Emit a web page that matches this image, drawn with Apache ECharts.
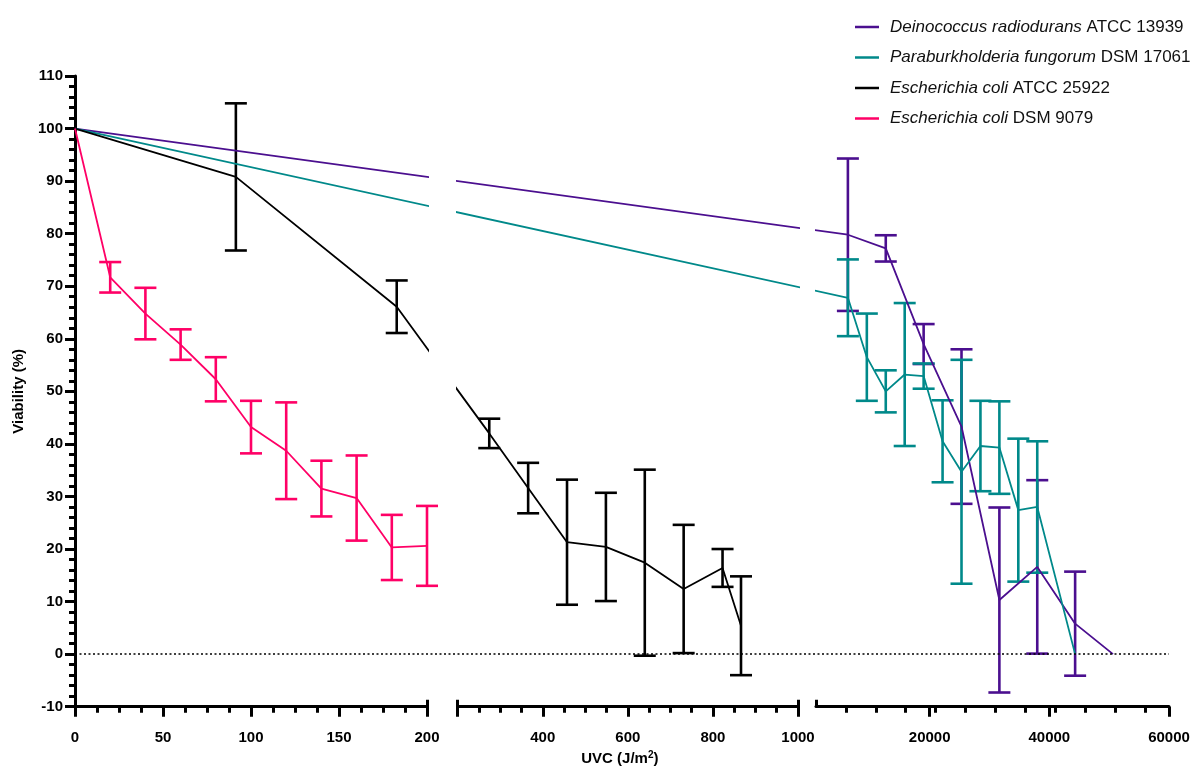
<!DOCTYPE html>
<html>
<head>
<meta charset="utf-8">
<script src="https://cdn.jsdelivr.net/npm/echarts@6/dist/echarts.min.js"></script>
<style>
  html, body { margin: 0; padding: 0; background: #fff; }
  #chart { width: 1192px; height: 769px; }
</style>
</head>
<body>
<div id="chart"></div>
<script>
// --- data ---
const doseDR = [0, 6330, 12660, 18990, 25320, 31650, 37980, 44310, 50640]
const meanDR = [100, 79.8, 77.2, 59, 43.3, 10.3, 16.6, 5.8, 0]
const sdDR   = [0, 14.5, 2.5, 3.8, 14.7, 17.6, 16.5, 9.9, 0]

const dosePF = [0, 6330, 9495, 12660, 15825, 18990, 22155, 25320, 28485, 31650, 34815, 37980, 44310]
const meanPF = [100, 67.8, 56.5, 50, 53.2, 52.9, 40.5, 34.7, 39.6, 39.3, 27.4, 28, 0]
const sdPF   = [0, 7.3, 8.3, 4, 13.6, 2.4, 7.8, 21.3, 8.6, 8.8, 13.6, 12.5, 0]

const doseEC1 = [0, 91.4, 182.8, 274.2, 365.6, 457, 548.4, 639.8, 731.2, 822.6, 866]
const meanEC1 = [100, 90.8, 66.1, 42, 31.6, 21.3, 20.4, 17.4, 12.4, 16.4, 5.4]
const sdEC1   = [0, 14, 5, 2.8, 4.8, 11.9, 10.3, 17.7, 12.2, 3.6, 9.4]

const doseEC2 = [0, 20, 40, 60, 80, 100, 120, 140, 160, 180, 200]
const meanEC2 = [100, 71.7, 64.8, 58.9, 52.3, 43.2, 38.7, 31.5, 29.7, 20.3, 20.6]
const sdEC2   = [0, 2.9, 4.9, 2.9, 4.2, 5, 9.2, 5.3, 8.1, 6.2, 7.6]

const strains = [
  { italic: 'Deinococcus radiodurans', rest: 'ATCC 13939', color: '#4B0F8F', dose: doseDR, mean: meanDR, sd: sdDR },
  { italic: 'Paraburkholderia fungorum', rest: 'DSM 17061', color: '#00898A', dose: dosePF, mean: meanPF, sd: sdPF },
  { italic: 'Escherichia coli', rest: 'ATCC 25922', color: '#000000', dose: doseEC1, mean: meanEC1, sd: sdEC1 },
  { italic: 'Escherichia coli', rest: 'DSM 9079', color: '#FF0066', dose: doseEC2, mean: meanEC2, sd: sdEC2 }
]

// broken x axis: three pieces, each with its own linear scale
const segTicks = [
  { major: [0, 50, 100, 150, 200], labels: [0, 50, 100, 150, 200], caps: [200] },
  { major: [200, 400, 600, 800, 1000], labels: [400, 600, 800, 1000], caps: [200, 1000] },
  { major: [20000, 40000, 60000], labels: [20000, 40000, 60000], caps: [1000] }
]
const minorStep = [12.5, 50, 5000]

// layout of the pieces (px)
const SEGS = [
  { min: 0, max: 200, left: 75, right: 427 },
  { min: 200, max: 1000, left: 457.7, right: 798 },
  { min: 1000, max: 60000, left: 816, right: 1169 }
]
const TOP = 76
const BOTTOM = 769 - 706.7
const FONT = 'Arial, "Liberation Sans", sans-serif'

function segIndex (v) {
  for (let i = 0; i < SEGS.length; i++) {
    if (v <= SEGS[i].max) return i
  }
  return SEGS.length - 1
}
function toPx (v) {
  const s = SEGS[segIndex(v)]
  return s.left + (v - s.min) / (s.max - s.min) * (s.right - s.left)
}
function minorTicks (i) {
  const s = SEGS[i]
  const out = []
  for (let v = s.min + minorStep[i]; v < s.max; v += minorStep[i]) {
    if (segTicks[i].major.indexOf(v) < 0) out.push(v)
  }
  return out
}

const grids = SEGS.map(s => ({
  left: s.left, width: s.right - s.left, top: TOP, bottom: BOTTOM, outerBoundsMode: 'none'
}))
grids.push({ left: 75, right: 1192 - 1169, top: TOP, bottom: BOTTOM, outerBoundsMode: 'none' })

const xAxes = []
SEGS.forEach((s, i) => {
  // hidden axis in px units for the data
  xAxes.push({ gridIndex: i, type: 'value', min: s.left, max: s.right, show: false })
  // visible axis: line, major ticks, labels
  xAxes.push({
    gridIndex: i, type: 'value', min: s.min, max: s.max, position: 'bottom', offset: 0,
    axisLine: { show: true, lineStyle: { color: '#000', width: 3 } },
    axisTick: { show: true, customValues: segTicks[i].major, length: 10, lineStyle: { color: '#000', width: 3 } },
    axisLabel: {
      customValues: segTicks[i].labels, formatter: v => String(v),
      margin: 24, fontSize: 15, fontWeight: 'bold', color: '#000', fontFamily: FONT
    },
    splitLine: { show: false },
    name: i === 1 ? 'UVC (J/m{sup|2})' : '',
    nameLocation: 'middle',
    nameGap: 44,
    nameTextStyle: {
      fontSize: 15, fontWeight: 'bold', color: '#000', fontFamily: FONT, padding: [0, 16, 0, 0],
      rich: { sup: { fontSize: 10, fontWeight: 'bold', verticalAlign: 'top', padding: [0, 0, 6, 0] } }
    }
  })
  // minor ticks
  xAxes.push({
    gridIndex: i, type: 'value', min: s.min, max: s.max, position: 'bottom', offset: 0,
    axisLine: { show: false },
    axisTick: { show: true, customValues: minorTicks(i), length: 6, lineStyle: { color: '#000', width: 3 } },
    axisLabel: { show: false }, splitLine: { show: false }
  })
  // end caps at the breaks
  xAxes.push({
    gridIndex: i, type: 'value', min: s.min, max: s.max, position: 'bottom', offset: 0,
    axisLine: { show: false },
    axisTick: { show: true, inside: true, customValues: segTicks[i].caps, length: 7, lineStyle: { color: '#000', width: 3 } },
    axisLabel: { show: false }, splitLine: { show: false }
  })
})
xAxes.push({ gridIndex: 3, type: 'value', min: 75, max: 1169, show: false })

const yAxes = grids.map((g, i) => ({
  gridIndex: i, type: 'value', min: -10, max: 110, interval: 10, show: i === 0,
  axisLine: { show: true, lineStyle: { color: '#000', width: 3 } },
  axisTick: { show: true, length: 10, lineStyle: { color: '#000', width: 3 } },
  minorTick: { show: true, splitNumber: 5, length: 6, lineStyle: { color: '#000', width: 3 } },
  axisLabel: { margin: 12, fontSize: 15, fontWeight: 'bold', color: '#000', fontFamily: FONT },
  splitLine: { show: false },
  name: 'Viability (%)',
  nameLocation: 'middle',
  nameGap: 49,
  nameTextStyle: { fontSize: 15, fontWeight: 'bold', color: '#000', fontFamily: FONT }
}))

function errorBars (color) {
  return function (params, api) {
    const x = api.value(0)
    const lo = api.coord([x, api.value(1)])
    const hi = api.coord([x, api.value(2)])
    const w = 11
    const style = { stroke: color, lineWidth: 2.6 }
    return {
      type: 'group',
      children: [
        { type: 'line', shape: { x1: lo[0], y1: lo[1], x2: hi[0], y2: hi[1] }, style },
        { type: 'line', shape: { x1: lo[0] - w, y1: lo[1], x2: lo[0] + w, y2: lo[1] }, style },
        { type: 'line', shape: { x1: hi[0] - w, y1: hi[1], x2: hi[0] + w, y2: hi[1] }, style }
      ]
    }
  }
}

const series = []
strains.forEach(st => {
  const name = st.italic + ' ' + st.rest
  SEGS.forEach((s, i) => {
    series.push({
      type: 'line', name, xAxisIndex: 4 * i, yAxisIndex: i,
      data: st.dose.map((d, k) => [toPx(d), st.mean[k]]),
      clip: true, symbol: 'none', showSymbol: false,
      lineStyle: { color: st.color, width: 1.8 }, itemStyle: { color: st.color },
      z: 3, silent: true
    })
    const bars = []
    st.dose.forEach((d, k) => {
      if (st.sd[k] > 0 && segIndex(d) === i) {
        bars.push([toPx(d), st.mean[k] - st.sd[k], st.mean[k] + st.sd[k]])
      }
    })
    if (bars.length) {
      series.push({
        type: 'custom', name, xAxisIndex: 4 * i, yAxisIndex: i,
        data: bars, clip: false, renderItem: errorBars(st.color), z: 2, silent: true
      })
    }
  })
})
// dotted zero line across the whole plot
series.push({
  type: 'line', xAxisIndex: 12, yAxisIndex: 3, data: [],
  markLine: {
    silent: true, symbol: ['none', 'none'], label: { show: false },
    lineStyle: { color: '#000', width: 1.5, type: [2, 2.5] },
    data: [{ yAxis: 0 }]
  }
})

const chart = echarts.init(document.getElementById('chart'))
chart.setOption({
  animation: false,
  backgroundColor: '#fff',
  grid: grids,
  xAxis: xAxes,
  yAxis: yAxes,
  legend: {
    orient: 'vertical', left: 855, top: 18, padding: 0,
    icon: 'rect', itemWidth: 24, itemHeight: 2.5, itemGap: 12.5,
    data: strains.map(st => st.italic + ' ' + st.rest),
    formatter: name => {
      const st = strains.find(x => x.italic + ' ' + x.rest === name)
      return '{i|' + st.italic + '} ' + st.rest
    },
    textStyle: {
      fontSize: 17, color: '#111', fontFamily: FONT, lineHeight: 18, padding: [0, 0, 0, 6],
      rich: { i: { fontSize: 17, fontStyle: 'italic', color: '#111', fontFamily: FONT, lineHeight: 18 } }
    }
  },
  series
})
</script>
</body>
</html>
